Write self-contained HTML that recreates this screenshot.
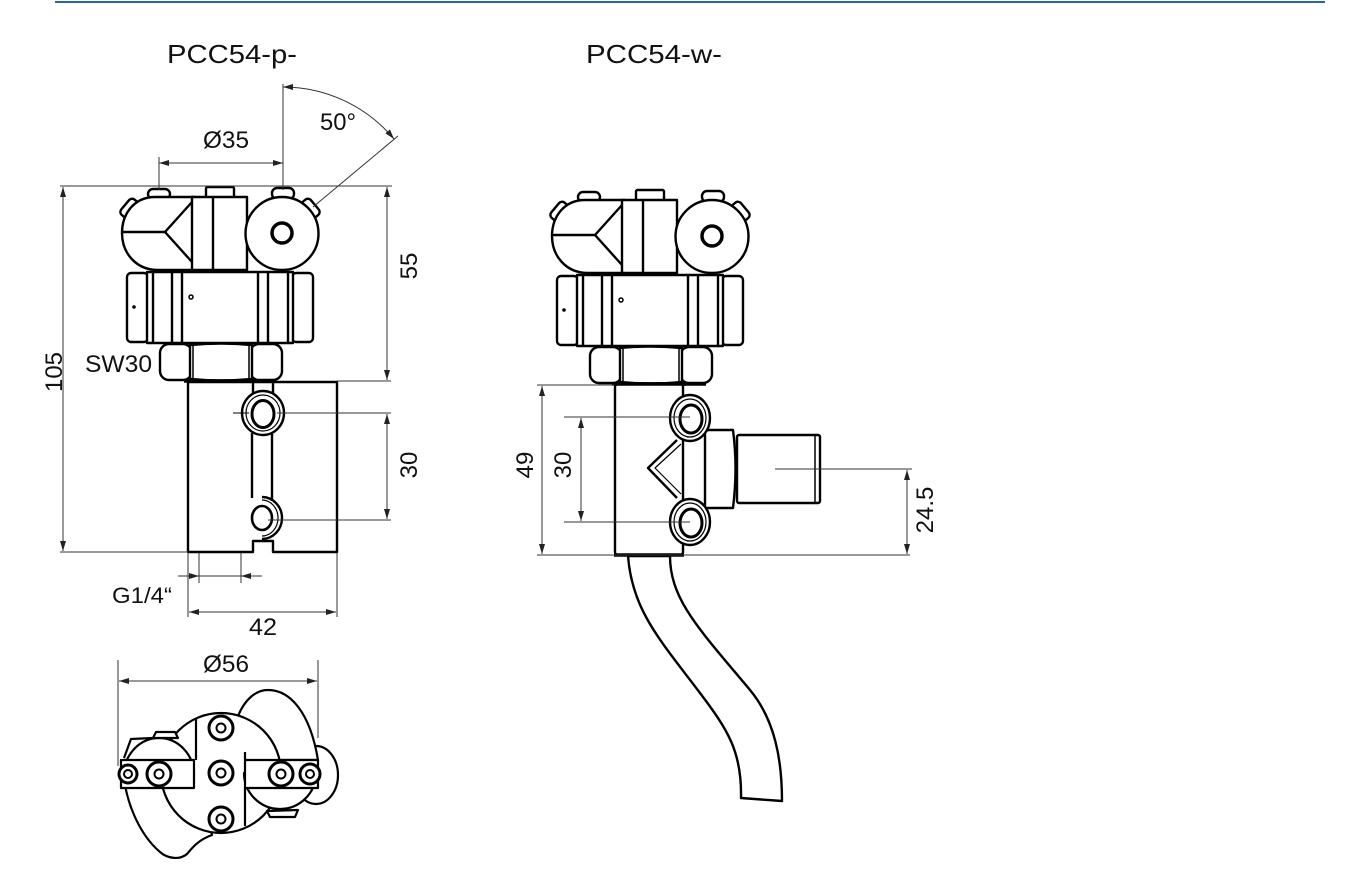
<!DOCTYPE html>
<html><head><meta charset="utf-8"><style>
html,body{margin:0;padding:0;background:#fff;}
svg{display:block;}
text{font-family:"Liberation Sans",Arial,sans-serif;fill:#111;}
</style></head><body>
<svg width="1368" height="886" viewBox="0 0 1368 886" xmlns="http://www.w3.org/2000/svg">
<defs>
<marker id="a" viewBox="0 0 10 6" refX="10" refY="3" markerWidth="10" markerHeight="6" markerUnits="userSpaceOnUse" orient="auto-start-reverse"><path d="M0,0 L10,3 L0,6 z" fill="#222"/></marker>
<g id="head" stroke="#000" stroke-width="2.4" fill="#fff" stroke-linejoin="round">
  <rect x="119" y="203" width="20" height="11" rx="4" transform="rotate(-50 129 208)"/>
  <rect x="301" y="203" width="20" height="11" rx="4" transform="rotate(50 311 208)"/>
  <rect x="148" y="189" width="22" height="10" rx="5"/>
  <rect x="272" y="188" width="22" height="11" rx="5"/>
  <rect x="206" y="187" width="28" height="12" rx="1.5"/>
  <path d="M195,197 H155 C134,197 122,214 122,233 C122,253 136,270 158,270 H195 Z"/>
  <path d="M123,232 H165 L192,202 M165,232 L192,262" fill="none"/>
  <rect x="192" y="197" width="55" height="73"/>
  <line x1="213" y1="197" x2="213" y2="270"/>
  <circle cx="282" cy="233.5" r="36.5"/>
  <circle cx="282" cy="233" r="10" stroke-width="3.5"/>
  <rect x="127" y="273" width="21" height="69" rx="4"/>
  <rect x="292" y="273" width="21" height="69" rx="4"/>
  <rect x="147" y="272" width="146" height="71"/>
  <path d="M153,272V343 M172,272V343 M182,272V343 M258,272V343 M268,272V343 M288,272V343" fill="none"/>
  <circle cx="134" cy="307" r="1.8" fill="#000" stroke="none"/>
  <circle cx="191" cy="297" r="2" fill="none" stroke-width="1.5"/>
  <rect x="160" y="344" width="32" height="36" rx="9"/>
  <rect x="250" y="344" width="32" height="36" rx="9"/>
  <path d="M190,345 Q221,342 252,345 L252,379 Q221,382 190,379 Z"/>
  <path d="M193,345V379 M249,345V379" fill="none" stroke-width="1.5"/>
  <line x1="184" y1="381" x2="276" y2="381" stroke-width="3.5"/>
</g>
</defs>

<!-- top blue line -->
<line x1="55" y1="2" x2="1325" y2="2" stroke="#2a62ad" stroke-width="2"/>

<!-- titles -->
<text x="167" y="63" font-size="26" textLength="130" lengthAdjust="spacingAndGlyphs">PCC54-p-</text>
<text x="586" y="63" font-size="26" textLength="136" lengthAdjust="spacingAndGlyphs">PCC54-w-</text>

<!-- ============ LEFT VIEW ============ -->
<use href="#head"/>

<g stroke="#000" stroke-width="2.4" fill="#fff" stroke-linejoin="round">
  <path d="M188,382 H337 V552 H273 V541 H253 V552 H188 Z"/>
  <path d="M253,382V395 M273,382V395 M252,433V498 M272,434V500" fill="none"/>
  <ellipse cx="263" cy="413" rx="21" ry="22"/>
  <ellipse cx="263" cy="413" rx="17" ry="18" stroke-width="1.2"/>
  <ellipse cx="263" cy="414" rx="11" ry="13.5" stroke-width="3"/>
  <path d="M262,497 A20,21 0 0 1 262,539" fill="none"/>
  <path d="M262,500 A16,18 0 0 1 262,536" fill="none" stroke-width="1.2"/>
  <ellipse cx="262" cy="518" rx="10" ry="12" stroke-width="2.6"/>
</g>

<!-- left dims -->
<g stroke="#333" stroke-width="1" fill="none">
  <line x1="283" y1="84" x2="283" y2="190"/>
  <line x1="159" y1="157" x2="159" y2="190"/>
  <line x1="159" y1="163" x2="283" y2="163" marker-start="url(#a)" marker-end="url(#a)"/>
  <path d="M283,87 A145,145 0 0 1 394,139" marker-start="url(#a)" marker-end="url(#a)"/>
  <line x1="313" y1="207" x2="398" y2="136"/>
  <line x1="60" y1="186" x2="392" y2="186"/>
  <line x1="60" y1="552" x2="188" y2="552"/>
  <line x1="63" y1="187" x2="63" y2="551" marker-start="url(#a)" marker-end="url(#a)"/>
  <line x1="337" y1="381" x2="391" y2="381"/>
  <line x1="387" y1="187" x2="387" y2="380" marker-start="url(#a)" marker-end="url(#a)"/>
  <line x1="233" y1="413" x2="249" y2="413" stroke="#000"/>
  <line x1="277" y1="413" x2="391" y2="413"/>
  <line x1="268" y1="520" x2="391" y2="520"/>
  <line x1="387" y1="414" x2="387" y2="519" marker-start="url(#a)" marker-end="url(#a)"/>
  <line x1="199" y1="553" x2="199" y2="583"/>
  <line x1="241" y1="553" x2="241" y2="583"/>
  <line x1="178" y1="576" x2="199" y2="576" marker-end="url(#a)"/>
  <line x1="262" y1="576" x2="241" y2="576" marker-end="url(#a)"/>
  <line x1="199" y1="576" x2="241" y2="576"/>
  <line x1="188" y1="553" x2="188" y2="617"/>
  <line x1="337" y1="553" x2="337" y2="617"/>
  <line x1="189" y1="612" x2="336" y2="612" marker-start="url(#a)" marker-end="url(#a)"/>
  <line x1="118" y1="660" x2="118" y2="766"/>
  <line x1="318" y1="660" x2="318" y2="738"/>
  <line x1="119" y1="681" x2="317" y2="681" marker-start="url(#a)" marker-end="url(#a)"/>
</g>

<text x="203" y="148" font-size="24" textLength="46" lengthAdjust="spacingAndGlyphs">Ø35</text>
<text x="320" y="130" font-size="24" textLength="36" lengthAdjust="spacingAndGlyphs">50°</text>
<text x="85" y="372" font-size="24" textLength="67" lengthAdjust="spacingAndGlyphs">SW30</text>
<text transform="translate(62,372) rotate(-90)" font-size="24" text-anchor="middle">105</text>
<text transform="translate(417,266) rotate(-90)" font-size="24" text-anchor="middle">55</text>
<text transform="translate(417,465) rotate(-90)" font-size="24" text-anchor="middle">30</text>
<text x="112" y="603" font-size="22" textLength="60" lengthAdjust="spacingAndGlyphs">G1/4“</text>
<text x="249" y="635" font-size="24" textLength="28" lengthAdjust="spacingAndGlyphs">42</text>
<text x="203" y="672" font-size="24" textLength="46" lengthAdjust="spacingAndGlyphs">Ø56</text>

<!-- bottom view -->
<g stroke="#000" stroke-width="2.2" fill="#fff" stroke-linejoin="round">
  <!-- right bump -->
  <ellipse cx="316" cy="775" rx="22" ry="29"/>
  <!-- top-right lobe -->
  <path d="M238,716 C245,699 256,690 268,690 C290,690 310,712 318,760 L245,760 Z"/>
  <!-- bottom-left lobe -->
  <path d="M123,762 C123,800 140,835 160,852 C168,859 180,860 187,854 C192,848 198,840 212,835 L200,790 Z"/>
  <!-- big circle -->
  <circle cx="221" cy="773" r="60"/>
  <!-- right lower D -->
  <path d="M244,773 A36,36 0 0 0 316,773 Z"/>
  <!-- left upper D -->
  <path d="M124,775 A35,37 0 0 1 194,775 Z"/>
  <!-- tabs -->
  <path d="M153,738 L156,732 L175,732 L178,738 Z"/>
  <path d="M124,758 L131,739 L153,738" fill="none"/>
  <path d="M267,811 L270,817 L295,817 L298,810 Z"/>
  <!-- bars -->
  <rect x="121" y="760" width="73" height="28"/>
  <rect x="245" y="760" width="73" height="28"/>
  <path d="M196,719V760 M245,752V760 M245,788V826" fill="none"/>
  <g stroke-width="3">
    <circle cx="221" cy="728" r="12"/>
    <circle cx="221" cy="773" r="12"/>
    <circle cx="221" cy="819" r="12"/>
    <circle cx="159" cy="774" r="12"/>
    <circle cx="281" cy="774" r="12"/>
    <circle cx="310" cy="774" r="10"/>
    <circle cx="128" cy="774" r="9"/>
  </g>
  <g stroke-width="2">
    <circle cx="221" cy="728" r="4.5"/>
    <circle cx="221" cy="773" r="4.5"/>
    <circle cx="221" cy="819" r="4.5"/>
    <circle cx="159" cy="774" r="4.5"/>
    <circle cx="281" cy="774" r="4.5"/>
    <circle cx="310" cy="774" r="4"/>
    <circle cx="128" cy="774" r="4"/>
  </g>
</g>

<!-- ============ RIGHT VIEW ============ -->
<!-- cable -->
<path d="M628,556 C632,610 660,640 700,693 C728,730 742,752 741,798 L782,801 C782,760 775,720 750,690 C700,630 670,600 670,556 Z" fill="#fff" stroke="#000" stroke-width="2.4" stroke-linejoin="round"/>

<use href="#head" transform="translate(430,3)"/>

<g stroke="#000" stroke-width="2.4" fill="#fff" stroke-linejoin="round">
  <rect x="615" y="384" width="68" height="171" rx="3"/>
  <line x1="612" y1="384" x2="686" y2="384" stroke-width="3.5"/>
  <line x1="614" y1="555" x2="684" y2="555" stroke-width="3.5"/>
  <path d="M705,430 H733 Q738,468 733,508 H705 Z"/>
  <rect x="737" y="435" width="83" height="68" rx="2"/>
  <line x1="815" y1="436" x2="815" y2="502" stroke-width="1.5"/>
  <path d="M677,440 L648,468 L677,498" fill="none"/>
  <path d="M681,444 L655,468 L681,494" fill="none" stroke-width="1.2"/>
  <ellipse cx="690" cy="418" rx="20" ry="23"/>
  <ellipse cx="690" cy="418" rx="16" ry="19" stroke-width="1.2"/>
  <ellipse cx="691" cy="419" rx="11" ry="14" stroke-width="3"/>
  <ellipse cx="690" cy="522" rx="20" ry="23"/>
  <ellipse cx="690" cy="522" rx="16" ry="19" stroke-width="1.2"/>
  <ellipse cx="691" cy="523" rx="11" ry="14" stroke-width="3"/>
</g>

<!-- right dims -->
<g stroke="#333" stroke-width="1" fill="none">
  <line x1="537" y1="385" x2="615" y2="385"/>
  <line x1="537" y1="555" x2="910" y2="555"/>
  <line x1="542" y1="386" x2="542" y2="554" marker-start="url(#a)" marker-end="url(#a)"/>
  <line x1="564" y1="417" x2="690" y2="417"/>
  <line x1="564" y1="522" x2="690" y2="522"/>
  <line x1="581" y1="418" x2="581" y2="521" marker-start="url(#a)" marker-end="url(#a)"/>
  <line x1="775" y1="469" x2="912" y2="469"/>
  <line x1="907" y1="470" x2="907" y2="554" marker-start="url(#a)" marker-end="url(#a)"/>
</g>
<text transform="translate(533,465) rotate(-90)" font-size="24" text-anchor="middle">49</text>
<text transform="translate(571,465) rotate(-90)" font-size="24" text-anchor="middle">30</text>
<text transform="translate(933,510) rotate(-90)" font-size="24" text-anchor="middle">24.5</text>
</svg>
</body></html>
